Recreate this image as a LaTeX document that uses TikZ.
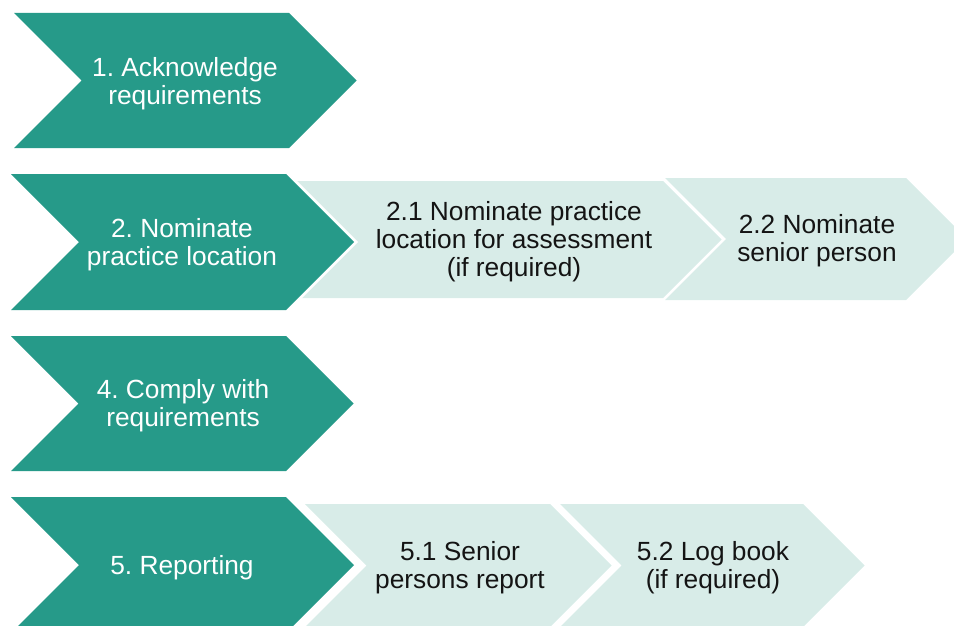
\documentclass[tikz,border=0pt]{standalone}
\usepackage{fontspec}
\setmainfont{Liberation Sans}
\frenchspacing
\begin{document}
% chevron outline: left x, right x, top y, bottom y (arrow depth = half height)
\newcommand\chevpath[4]{(#1,#3) -- (#2,#3) -- ({#2+(#4-#3)/2},{(#3+#4)/2}) -- (#2,#4) -- (#1,#4) -- ({#1+(#4-#3)/2},{(#3+#4)/2}) -- cycle}
\definecolor{stepdark}{RGB}{38,154,137}
\definecolor{steplight}{RGB}{216,236,232}
\definecolor{steptext}{RGB}{20,20,20}
\begin{tikzpicture}[x=1pt,y=-1pt,
  mainstep/.style={fill=stepdark, preaction={draw=white, line width=6pt}},
  substep/.style={fill=steplight},
  maintext/.style={text=white, align=center, inner sep=0pt, font=\fontsize{26.3}{28}\selectfont},
  subtext/.style={text=steptext, align=center, inner sep=0pt, font=\fontsize{26.3}{28}\selectfont}]
\path[use as bounding box] (0,0) rectangle (954,626);
\begin{scope}
\clip (0,0) rectangle (954,626);
% secondary steps (drawn first, main steps overlap them)
\path[substep] \chevpath{296}{663}{181}{298};
\path[substep] \chevpath{665}{906}{178}{300};
\path[substep] \chevpath{305}{550}{504}{627};
\path[substep] \chevpath{560}{803}{504}{627};
% main steps
\path[mainstep] \chevpath{14}{289}{13}{148};
\path[mainstep] \chevpath{11}{286}{174}{310};
\path[mainstep] \chevpath{11}{286}{336}{471};
\path[mainstep] \chevpath{11}{286}{497}{633};
\end{scope}
% labels
\node[maintext] (s1) at (185,84) {1. Acknowledge\\requirements};
\node[maintext] (s2) at (182,245) {2. Nominate\\practice location};
\node[maintext] (s4) at (183,406) {4. Comply with\\requirements};
\node[maintext] (s5) at (182,568) {5. Reporting};
\node[subtext] (s21) at (514,242) {2.1 Nominate practice\\location for assessment\\(if required)};
\node[subtext] (s22) at (817,241) {2.2 Nominate\\senior person};
\node[subtext] (s51) at (460,568) {5.1 Senior\\persons report};
\node[subtext] (s52) at (713,568) {5.2 Log book\\(if required)};
\end{tikzpicture}
\end{document}
